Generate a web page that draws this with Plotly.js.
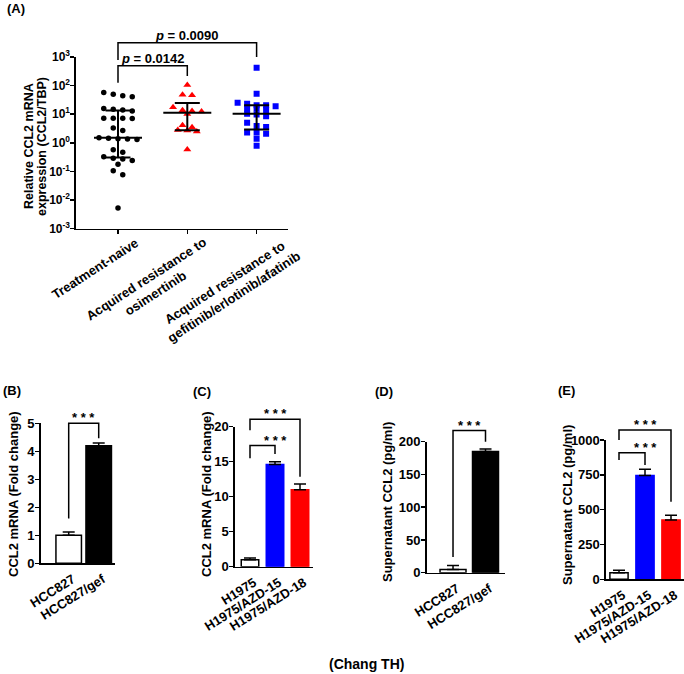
<!DOCTYPE html>
<html>
<head>
<meta charset="utf-8">
<script src="https://cdn.plot.ly/plotly-3.0.1.min.js"></script>
<style>
  html, body { margin: 0; padding: 0; background: #fff; }
  #fig { width: 684px; height: 674px; }
</style>
</head>
<body>
<div id="fig"></div>
<script>
// ---------- Panel A: relative CCL2 mRNA (CCL2/TBP) in patient samples ----------
const groupsA = [
  'Treatment-naive',
  'Acquired resistance to<br>osimertinib',
  'Acquired resistance to<br>gefitinib/erlotinib/afatinib'
];
const naive = [58, 50, 44, 41, 16, 15, 14, 13, 7.3, 7.3, 7.2, 7.1, 3.3, 2.7,
               1.5, 1.45, 1.4, 1.35, 1.3, 0.57, 0.47, 0.33, 0.29, 0.27, 0.24,
               0.18, 0.105, 0.077, 0.0053];
const osimertinib = [105, 48, 46, 17.5, 13.8, 13, 12.5, 10.2, 4.1, 3.5, 2.8, 2.7, 2.5, 0.58];
const gefErlAfa = [420, 52, 25, 23.4, 20.6, 20.6, 19, 15.7, 15.7, 14, 10.5, 9.7, 8.5,
                   5, 3.9, 3.6, 2.3, 2.3, 2.1, 1.4, 0.79];
const logTickVals = [0.001, 0.01, 0.1, 1, 10, 100, 1000];
const logTickText = ['10<sup>-3</sup>', '10<sup>-2</sup>', '10<sup>-1</sup>', '10<sup>0</sup>',
                     '10<sup>1</sup>', '10<sup>2</sup>', '10<sup>3</sup>'];
const titleA = ['Relative CCL2 mRNA', 'expression (CCL2/TBP)'];
const pLabels = ['<i>p</i> = 0.0142', '<i>p</i> = 0.0090'];

// ---------- Panels B-E: cell lines ----------
const cellsB = ['HCC827', 'HCC827/gef'];
const mrnaB = [1.0, 4.2];
const mrnaBErr = [0.12, 0.1];

const cellsC = ['H1975', 'H1975/AZD-15', 'H1975/AZD-18'];
const mrnaC = [1.0, 14.6, 11.0];
const mrnaCErr = [0.25, 0.4, 0.8];

const cellsD = ['HCC827', 'HCC827/gef'];
const secretD = [5, 185];
const secretDErr = [6, 4];

const cellsE = ['H1975', 'H1975/AZD-15', 'H1975/AZD-18'];
const secretE = [47, 745, 425];
const secretEErr = [18, 45, 35];

const sigLabel = '* * *';

// ---------- geometry helpers (pixel frame of the 684 x 674 figure) ----------
const W = 684, H = 674;
const FONT = 'Liberation Sans, Arial, Helvetica, sans-serif';
const hx = p => p / W;
const vy = p => 1 - p / H;

const geom = {
  a: { x: [76, 288],    y: [57, 228.7],    xr: [-0.606, 2.453], yr: [-3, 3], log: true },
  b: { x: [40.7, 115],  y: [423.3, 563.3], xr: [-0.933, 1.543], yr: [0, 5] },
  c: { x: [235, 313],   y: [426.7, 566.7], xr: [-0.6, 2.52],    yr: [0, 20] },
  d: { x: [426.7, 505], y: [441.7, 572.7], xr: [-0.81, 1.6],    yr: [0, 200] },
  e: { x: [606, 684],   y: [440, 579.3],   xr: [-0.5, 2.5],     yr: [0, 1000] }
};
const xDomain = g => [hx(g.x[0]), hx(g.x[1])];
const yDomain = g => [vy(g.y[1]), vy(g.y[0])];
const pxPerX = g => (g.x[1] - g.x[0]) / (g.xr[1] - g.xr[0]);
function paperX(g, v) {
  return hx(g.x[0] + (v - g.xr[0]) * pxPerX(g));
}
function paperY(g, v) {
  const t = g.log ? Math.log10(v) : v;
  return vy(g.y[1] - (t - g.yr[0]) / (g.yr[1] - g.yr[0]) * (g.y[1] - g.y[0]));
}

// quantile with the (n+1)p rule
function quantile(sorted, p) {
  const h = (sorted.length + 1) * p;
  const lo = Math.floor(h), f = h - lo;
  if (lo < 1) return sorted[0];
  if (lo >= sorted.length) return sorted[sorted.length - 1];
  return sorted[lo - 1] + f * (sorted[lo] - sorted[lo - 1]);
}

// scatter dot plot layout: points with close values share a row, rows are centred
function swarm(values, center, g) {
  const step = 9.5 / pxPerX(g);
  const order = values.map((v, i) => i).sort((i, j) => values[j] - values[i]);
  const xs = new Array(values.length);
  let row = [];
  const flush = () => {
    row.forEach((idx, k) => { xs[idx] = center + (k - (row.length - 1) / 2) * step; });
    row = [];
  };
  order.forEach(idx => {
    if (row.length && Math.log10(values[row[0]]) - Math.log10(values[idx]) >= 0.16) flush();
    row.push(idx);
  });
  flush();
  return xs;
}

const traces = [];
const shapes = [];
const annotations = [];

// ---------- Panel A traces ----------
const seriesA = [
  { vals: naive, symbol: 'circle', size: 5.5, color: '#000000' },
  { vals: osimertinib, symbol: 'triangle-up', size: 7, color: '#ff0000' },
  { vals: gefErlAfa, symbol: 'square', size: 6, color: '#0000ff' }
];
seriesA.forEach((s, k) => {
  traces.push({
    type: 'scatter', mode: 'markers', xaxis: 'x', yaxis: 'y',
    x: swarm(s.vals, k, geom.a), y: s.vals,
    marker: { symbol: s.symbol, size: s.size, color: s.color, line: { width: 0 } },
    hoverinfo: 'skip'
  });
});
seriesA.forEach((s, k) => {
  const sorted = s.vals.slice().sort((a, b) => a - b);
  const med = quantile(sorted, 0.5), q1 = quantile(sorted, 0.25), q3 = quantile(sorted, 0.75);
  const mw = 24 / pxPerX(geom.a), cw = 12.5 / pxPerX(geom.a);
  traces.push({
    type: 'scatter', mode: 'lines', xaxis: 'x', yaxis: 'y',
    x: [k - mw, k + mw, null, k - cw, k + cw, null, k - cw, k + cw, null, k, k],
    y: [med, med, null, q3, q3, null, q1, q1, null, q1, q3],
    line: { color: '#000', width: 2 }, hoverinfo: 'skip'
  });
});

// ---------- bar panels ----------
function bars(xa, ya, cats, vals, errs, fills, edges, width) {
  traces.push({
    type: 'bar', xaxis: xa, yaxis: ya, x: cats, y: vals, width: width,
    marker: { color: fills, line: { color: edges, width: 1.5 } },
    error_y: { type: 'data', symmetric: false, array: errs, arrayminus: errs.map(() => 0),
               color: '#000', thickness: 1.5, width: 6 },
    hoverinfo: 'skip'
  });
}
bars('x2', 'y2', cellsB, mrnaB, mrnaBErr, ['#ffffff', '#000000'], ['#000', '#000'], 0.85);
bars('x3', 'y3', cellsC, mrnaC, mrnaCErr, ['#ffffff', '#0000ff', '#ff0000'], ['#000', '#0000ff', '#ff0000'], 0.7);
bars('x4', 'y4', cellsD, secretD, secretDErr, ['#ffffff', '#000000'], ['#000', '#000'], 0.8);
bars('x5', 'y5', cellsE, secretE, secretEErr, ['#ffffff', '#0000ff', '#ff0000'], ['#000', '#0000ff', '#ff0000'], 0.7);

// ---------- significance brackets ----------
function bracket(g, b, label, size) {
  const x1 = paperX(g, b.from), x2 = paperX(g, b.to);
  const yt = paperY(g, b.top), yl = paperY(g, b.left), yr = paperY(g, b.right);
  shapes.push({
    type: 'path', xref: 'paper', yref: 'paper',
    path: `M${x1},${yl} L${x1},${yt} L${x2},${yt} L${x2},${yr}`,
    line: { color: '#000', width: 1.5 }
  });
  const lx = b.labelAt !== undefined ? paperX(g, b.labelAt) : (x1 + x2) / 2;
  annotations.push({
    xref: 'paper', yref: 'paper', x: lx, y: yt, xanchor: 'center', yanchor: 'bottom',
    yshift: b.shift || 0, text: label, showarrow: false,
    font: { family: FONT, size: size, color: '#000', weight: 'bold' }
  });
}
bracket(geom.a, { from: 0, to: 1, top: 495, left: 126, right: 216, shift: -2 }, pLabels[0], 13);
bracket(geom.a, { from: 0, to: 2, top: 3160, left: 787, right: 1000, shift: -2 }, pLabels[1], 13);
bracket(geom.b, { from: 0, to: 1, top: 5.0, left: 1.6, right: 4.47, shift: -4 }, sigLabel, 13);
bracket(geom.c, { from: 0, to: 2, top: 21.05, left: 19.5, right: 12.86, shift: -4 }, sigLabel, 13);
bracket(geom.c, { from: 0, to: 1, top: 17.3, left: 15.5, right: 16.1, labelAt: 1, shift: -4 }, sigLabel, 13);
bracket(geom.d, { from: 0, to: 1, top: 217, left: 24, right: 200, shift: -4 }, sigLabel, 13);
bracket(geom.e, { from: 0, to: 2, top: 1072, left: 1000, right: 557, shift: -4 }, sigLabel, 13);
bracket(geom.e, { from: 0, to: 1, top: 909, left: 856, right: 820, labelAt: 1, shift: -4 }, sigLabel, 13);

// ---------- text: panel letters, axis titles, group labels ----------
function text(px, py, str, size, angle, extra) {
  annotations.push(Object.assign({
    xref: 'paper', yref: 'paper', x: hx(px), y: vy(py), text: str, showarrow: false,
    textangle: angle || 0, xanchor: 'center', yanchor: 'middle',
    font: { family: FONT, size: size, color: '#000', weight: 'bold' }
  }, extra || {}));
}
text(16, 9, '(A)', 13);
text(12, 390, '(B)', 13);
text(202, 391, '(C)', 13);
text(384, 391, '(D)', 13);
text(566, 390, '(E)', 13);
text(366, 664, '(Chang TH)', 14);

// y-axis titles (two tight lines for panel A)
text(29, 146, titleA[0], 12.5, -90);
text(42, 147, titleA[1], 12.5, -90);
text(13, 494, 'CCL2 mRNA (Fold change)', 13, -90);
text(206, 494, 'CCL2 mRNA (Fold change)', 13, -90);
text(387, 502, 'Supernatant CCL2 (pg/ml)', 13, -90);
text(568, 505, 'Supernatant CCL2 (pg/ml)', 13, -90);

// group labels under panel A, rotated with centred lines
const groupShift = [26, 34, 49];
groupsA.forEach((g, k) => {
  annotations.push({
    xref: 'x', yref: 'paper', x: k, y: vy(232), text: g, showarrow: false,
    textangle: -33, align: 'center', xanchor: 'right', yanchor: 'top', xshift: groupShift[k],
    font: { family: FONT, size: 13, color: '#000', weight: 'bold' }
  });
});

// ---------- axes ----------
const tickFont = { family: FONT, size: 13, color: '#000', weight: 'bold' };
const baseAxis = {
  showline: true, linecolor: '#000', linewidth: 1.6, showgrid: false, zeroline: false,
  ticks: 'outside', ticklen: 4, tickwidth: 1.5, tickcolor: '#000', tickfont: tickFont,
  fixedrange: true, automargin: false
};
const xBar = (g, anchor) => Object.assign({}, baseAxis, {
  domain: xDomain(g), range: g.xr, anchor: anchor, type: 'category', ticks: '',
  tickangle: -32, ticklabelstandoff: 2, ticklabelshift: 4
});
const yBar = (g, anchor, dtick) => Object.assign({}, baseAxis, {
  domain: yDomain(g), range: g.yr, anchor: anchor, dtick: dtick, tick0: 0,
  ticklabelstandoff: -2
});

const layout = {
  width: W, height: H, margin: { l: 0, r: 0, t: 0, b: 0 },
  paper_bgcolor: '#fff', plot_bgcolor: 'rgba(0,0,0,0)', showlegend: false,
  font: { family: FONT, color: '#000' },
  xaxis: Object.assign({}, baseAxis, {
    domain: xDomain(geom.a), range: geom.a.xr, anchor: 'y',
    tickvals: [0, 1, 2], showticklabels: false
  }),
  yaxis: Object.assign({}, baseAxis, {
    domain: yDomain(geom.a), range: geom.a.yr, anchor: 'x', type: 'log',
    tickvals: logTickVals, ticktext: logTickText, ticklabelstandoff: -2,
    tickfont: Object.assign({}, tickFont, { size: 12 })
  }),
  xaxis2: xBar(geom.b, 'y2'), yaxis2: yBar(geom.b, 'x2', 1),
  xaxis3: xBar(geom.c, 'y3'), yaxis3: yBar(geom.c, 'x3', 5),
  xaxis4: xBar(geom.d, 'y4'), yaxis4: yBar(geom.d, 'x4', 50),
  xaxis5: xBar(geom.e, 'y5'), yaxis5: yBar(geom.e, 'x5', 250),
  shapes: shapes,
  annotations: annotations
};

Plotly.newPlot('fig', traces, layout, { staticPlot: true, displayModeBar: false });
</script>
</body>
</html>
